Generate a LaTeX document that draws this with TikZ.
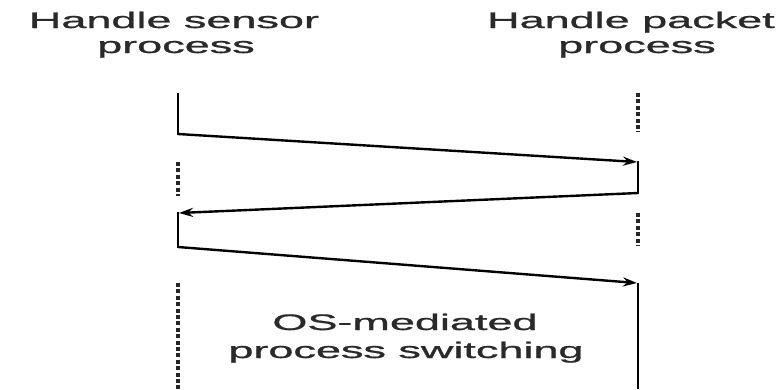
\documentclass[tikz,border=0pt]{standalone}
\usepackage{fontspec}
\usepackage{graphicx}
\setmainfont{Liberation Sans}
\newfontfamily\labelfont[FakeBold=0.8]{Liberation Sans}
\usetikzlibrary{arrows.meta}
\definecolor{inkgray}{HTML}{2A2A2A}
\newcommand\widetext[1]{\scalebox{2}[1]{#1}}
\begin{document}
\begin{tikzpicture}[x=1pt,y=-1pt,
  label/.style={anchor=base,inner sep=0pt,text=inkgray,font=\labelfont\fontsize{22.5}{25}\selectfont},
  active/.style={line width=2.6pt,line cap=rect},
  idle/.style={line width=3.2pt,dash pattern=on 4pt off 2.4pt,draw=black!85},
  msg/.style={line width=2.4pt,-{Stealth[length=14pt,width=9pt]}}]
\useasboundingbox (0,0) rectangle (784,389);

% column headings
\node[label] (hs1) at (174,28) {\widetext{Handle sensor}};
\node[label] (hs2) at (176,53) {\widetext{process}};
\node[label] (hp1) at (631,28) {\widetext{Handle packet}};
\node[label] (hp2) at (637,53) {\widetext{process}};

% points on the two lifelines
\coordinate (L0) at (178,94);
\coordinate (L1) at (178,134);
\coordinate (L2) at (178,213);
\coordinate (L3) at (178,247);
\coordinate (R1) at (638,162);
\coordinate (R2) at (638,193);
\coordinate (R3) at (638,283);
\coordinate (R4) at (638,389);

% idle stretches
\coordinate (RA0) at (638,93);  \coordinate (RA1) at (638,132);
\coordinate (LA0) at (178,162); \coordinate (LA1) at (178,196);
\coordinate (RB0) at (638,213); \coordinate (RB1) at (638,246);
\coordinate (LB0) at (178,283); \coordinate (LB1) at (178,389);
\draw[idle] (RA0) -- (RA1);
\draw[idle] (LA0) -- (LA1);
\draw[idle] (RB0) -- (RB1);
\draw[idle] (LB0) -- (LB1);

% running stretches
\draw[active] (L0) -- (L1);
\draw[active] (R1) -- (R2);
\draw[active] (L2) -- (L3);
\draw[active,line cap=butt] (R3) -- (R4);

% switches between the processes
\draw[msg] (L1) -- ([xshift=-1pt]R1);
\draw[msg] (R2) -- ([xshift=1pt]L2);
\draw[msg] (L3) -- ([xshift=-1pt]R3);

% caption
\node[label] (os1) at (405,330) {\widetext{OS-mediated}};
\node[label] (os2) at (406,358) {\widetext{process switching}};
\end{tikzpicture}
\end{document}
